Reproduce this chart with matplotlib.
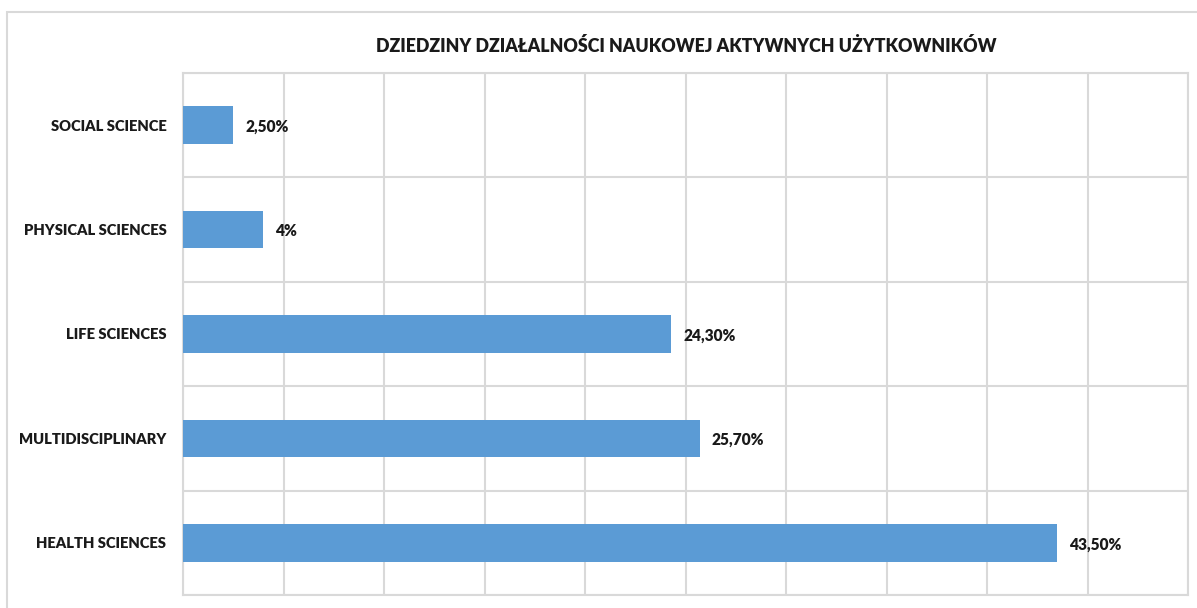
import matplotlib.pyplot as plt
import matplotlib.patches as mpatches
from matplotlib.ticker import MultipleLocator

categories = ["HEALTH SCIENCES", "MULTIDISCIPLINARY", "LIFE SCIENCES",
              "PHYSICAL SCIENCES", "SOCIAL SCIENCE"]
values = [43.5, 25.7, 24.3, 4.0, 2.5]
value_labels = ["43,50%", "25,70%", "24,30%", "4%", "2,50%"]

TITLE = "DZIEDZINY DZIAŁALNOŚCI NAUKOWEJ AKTYWNYCH UŻYTKOWNIKÓW"
BAR_COL = "#5b9bd5"
GRID_COL = "#d9d9d9"
TEXT_COL = "#1a1a1a"

plt.rcParams["font.family"] = ["Lato", "DejaVu Sans"]

fig = plt.figure(figsize=(11.97, 6.08), dpi=100)
fig.patch.set_facecolor("white")

# chart border (Excel-style frame)
fig.add_artist(mpatches.Rectangle((7 / 1197, -0.05), 1.2, 1 - 12 / 608 + 0.05,
                                  transform=fig.transFigure, fill=False,
                                  edgecolor=GRID_COL, linewidth=1.5))

ax = fig.add_axes([183 / 1197, 1 - 595 / 608, (1188 - 183) / 1197, (595 - 73) / 608])

ypos = list(range(len(categories)))
ax.barh(ypos, values, height=0.36, color=BAR_COL, zorder=3)

ax.set_xlim(0, 50)
ax.set_ylim(-0.5, len(categories) - 0.5)
ax.xaxis.set_major_locator(MultipleLocator(5))
ax.yaxis.set_minor_locator(MultipleLocator(1, offset=0.5))
ax.grid(axis="x", which="major", color=GRID_COL, linewidth=1.5, zorder=0)
ax.grid(axis="y", which="minor", color=GRID_COL, linewidth=1.5, zorder=0)
ax.set_xticklabels([])
ax.tick_params(axis="x", length=0)
ax.tick_params(axis="y", which="both", length=0, pad=12)
ax.set_yticks(ypos)
ax.set_yticklabels(categories, fontsize=10.6, fontweight="heavy", color=TEXT_COL)
for s in ax.spines.values():
    s.set_color(GRID_COL)
    s.set_linewidth(1.5)

for y, v, lbl in zip(ypos, values, value_labels):
    ax.annotate(lbl, (v, y), xytext=(8.5, -1), textcoords="offset points",
                ha="left", va="center", fontsize=11.2, fontweight="heavy",
                color=TEXT_COL, zorder=4)

fig.text(686 / 1197, 1 - 46 / 608, TITLE, ha="center", va="center",
         fontsize=12.8, fontweight="heavy", color=TEXT_COL)

fig.savefig("out.png", dpi=100)
